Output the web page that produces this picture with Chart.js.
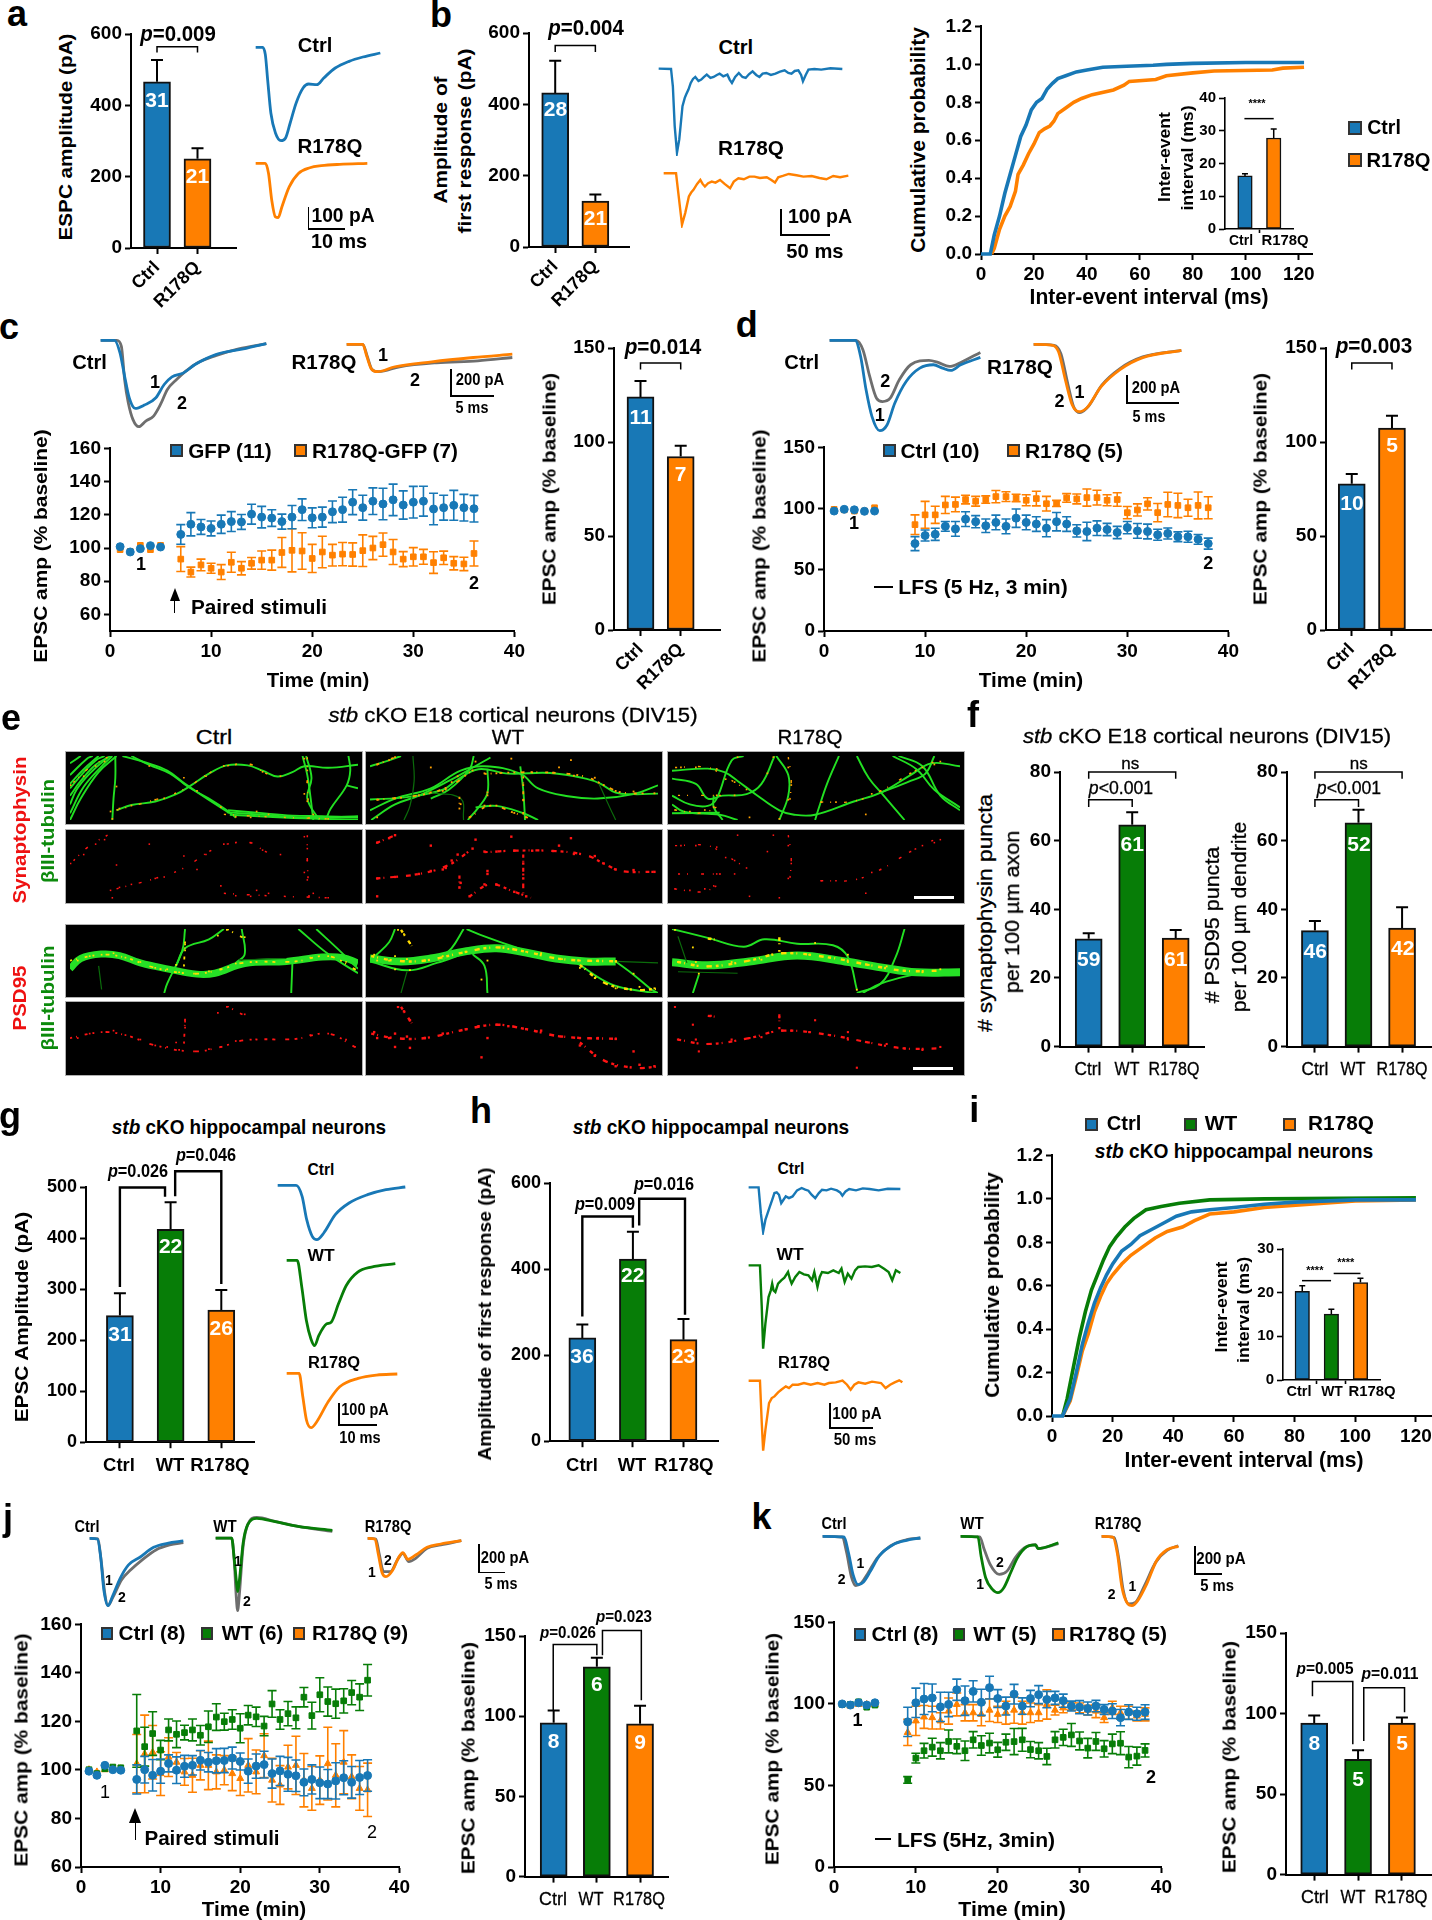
<!DOCTYPE html>
<html>
<head>
<meta charset="utf-8">
<title>Figure</title>
<script src="https://cdn.jsdelivr.net/npm/chart.js@4/dist/chart.umd.min.js"></script>
<style>
html, body { margin: 0; background: #fff; }
#fig { position: relative; width: 1432px; height: 1920px; overflow: hidden; background: #fff; }
#fig canvas { position: absolute; }
.t { position: absolute; white-space: nowrap; color: #000; font-family: "Liberation Sans", Arial, sans-serif; line-height: 1; }
.box { position: absolute; background: #000; }
.sw { position: absolute; box-sizing: border-box; border: 2px solid #333; }
</style>
</head>
<body>
<div id="fig"></div>
<script>
var BLUE = "#1878b6", ORANGE = "#ff8000", GREEN = "#077d07", GRAY = "#6e6e6e";

// ---- bar values: means, upper error ends, n labels and where the n label sits
var aVals = [466, 250], aErr = [527, 280], aN = ["31", "21"], aNy = [418, 204];
var bVals = [432, 129], bErr = [522, 147], bN = ["28", "21"], bNy = [390, 84];
var bInsetVals = [16.2, 27.8], bInsetErr = [16.9, 30.5];
var cBarVals = [124, 92.3], cBarErr = [132.4, 98], cBarN = ["11", "7"], cBarNy = [113.6, 83.4];
var dBarVals = [77.8, 107.4], dBarErr = [83, 114], dBarN = ["10", "5"], dBarNy = [68, 99];
var f1Vals = [31.4, 64.6, 31.6], f1Err = [33, 68.3, 34], f1N = ["59", "61", "61"], f1Ny = [25.7, 59.3, 25.6];
var f2Vals = [33.8, 65.2, 34.5], f2Err = [36.6, 69, 40.6], f2N = ["46", "52", "42"], f2Ny = [28.2, 59.3, 28.8];
var gVals = [248, 417, 259], gErr = [292, 470, 298], gN = ["31", "22", "26"], gNy = [214, 386, 225];
var hVals = [240, 423, 236], hErr = [271, 487, 284], hN = ["36", "22", "23"], hNy = [199, 388, 200];
var iInsetVals = [20.3, 15.1, 22.3], iInsetErr = [21.6, 16.2, 23.3];
var jBarVals = [95.9, 130.8, 95.3], jBarErr = [103.5, 136.5, 106.5], jBarN = ["8", "6", "9"], jBarNy = [84.7, 120.8, 84.5];
var kBarVals = [94.1, 71.5, 94.1], kBarErr = [98.8, 77.2, 97.6], kBarN = ["8", "5", "5"], kBarNy = [82.5, 60, 82.5];
var twoCats = ["Ctrl", "R178Q"], threeCats = ["Ctrl", "WT", "R178Q"];

// ---- cumulative curves [interval ms, probability]
var cumTicks = [0, 20, 40, 60, 80, 100, 120];
var bCumCtrl = [[0,0],[3.5,0],[5,.1],[7,.2],[9,.32],[11,.42],[13,.52],[15,.62],[17,.68],[19,.76],[21,.8],[23,.82],[25,.87],[27,.9],[29,.925],[32,.94],[36,.96],[40,.97],[46,.985],[55,.99],[65,.995],[70,1],[80,1.005],[100,1.01],[122,1.01]];
var bCumMut = [[4,0],[5,.03],[7,.13],[9,.2],[11,.25],[13,.33],[14,.42],[16,.47],[18,.53],[20,.58],[22,.64],[24,.66],[26,.675],[27.5,.7],[29,.74],[32,.77],[35,.8],[38,.82],[42,.84],[50,.865],[54,.89],[56,.91],[66,.92],[70,.94],[80,.955],[88,.965],[110,.97],[114,.98],[122,.985]];
var iCumCtrl = [[0,0],[3.5,0],[6,.08],[8,.2],[10,.33],[12,.43],[14,.52],[16,.59],[18,.65],[20,.7],[23,.76],[26,.79],[29,.83],[33,.86],[37,.89],[41,.92],[46,.94],[52,.95],[60,.96],[70,.975],[80,.985],[100,.995],[120,.995]];
var iCumWT = [[3.5,0],[5,.08],[7,.22],[9,.36],[11,.48],[13,.58],[15,.65],[17,.72],[19,.78],[21,.82],[24,.87],[27,.91],[31,.95],[36,.965],[42,.98],[52,.995],[70,1],[120,1.005]];
var iCumMut = [[3.5,0],[6,.07],[8,.18],[10,.3],[12,.38],[14,.48],[16,.55],[18,.61],[20,.65],[23,.7],[26,.74],[30,.78],[34,.82],[38,.85],[43,.87],[47,.9],[52,.93],[60,.94],[70,.96],[85,.975],[100,.99],[120,.995]];

// ---- time courses: minutes, means, half error bars
var cTimes = [1,2,3,4,5,7,8,9,10,11,12,13,14,15,16,17,18,19,20,21,22,23,24,25,26,27,28,29,30,31,32,33,34,35,36];
var cBlue = [100.8,97.6,99.6,101.4,100.6,108.2,114.3,112.7,111.8,114.3,115.9,115.7,120.4,118.6,118,115.9,118.6,123.1,118.2,118.6,121.8,123.1,127.6,124.3,128.2,126.5,129,125.9,127.6,128.2,123.5,124.3,125.7,124.3,123.7];
var cBlueErr = [0,0,0,0,0,5.9,7,4.5,4.5,5.5,6,4.5,6,6.5,5,4.5,7,6.5,6,6,6.5,7.5,7.5,7.5,8,9.5,9.5,8.5,9.5,9,9.5,7.5,9,8,8];
var cOrange = [99,98,101.6,99,101.6,93.3,85.5,89.8,87.8,85.5,91.4,87.8,90.8,92.7,92.7,97.3,98.6,98.2,93.7,97.6,95.7,96.3,96.1,98.4,100,102,97.6,93.3,94.7,94.7,91.2,94.1,90.8,90.4,96.7];
var cOrangeErr = [0,0,0,0,0,7.5,3,3.5,3,4.5,6,4,3.5,5.5,6,9,13,11,8.5,9.5,6.5,7,7,9.5,7,7,7.5,4.5,5.5,4.5,6.5,4,4,4,7.5];

var dTimes = [1,2,3,4,5,9,10,11,12,13,14,15,16,17,18,19,20,21,22,23,24,25,26,27,28,29,30,31,32,33,34,35,36,37,38];
var dBlue = [98,99.4,99,97.8,98,71.4,78,79,85.5,83.4,91.4,89.3,86,88.7,85.5,92.2,88.7,87.4,84,89.3,87.4,81.8,81.3,84,82.9,80.5,84.5,81.8,81.3,78.6,79.7,77,77,74.9,71.4];
var dBlueErr = [0,0,0,0,0,5.7,4.5,5,4,6,6,5,5.5,6,6,7.5,6,6,7,7.5,6,5,7.5,6,5,5,5,6,6,4.5,4.5,4,4.5,4,4.5];
var dOrange = [99.4,99,98,98,100.7,86.9,94.9,94.9,103,103.4,107.4,106,107.4,109.8,109.8,108.7,106.8,108.2,104,104.2,108.7,107.9,109,109,106.8,107.4,96.7,98.9,103.9,96.7,103.4,102.6,100.7,102.6,100.7];
var dOrangeErr = [0,0,0,0,0,8,11,7,7,6,3.5,4,3,5,4,3,4.5,6,6,2.5,3.5,4,7,6,4.5,5.5,5,5,5,7.5,10,10,7,11,9];

var jTimes = [1,2,3,4,5,7,8,9,10,11,12,13,14,15,16,17,18,19,20,21,22,23,24,25,26,27,28,29,30,31,32,33,34,35,36];
var jBlue = [99.5,97.8,101.9,100.1,99.9,96.1,100.1,97.8,99.5,102.7,99.9,101.5,101.9,104,103.2,103.8,103.9,104.9,103.5,99.5,101.6,102.2,98.5,99.6,98.2,97.6,94.9,96.1,94.7,94.2,95.5,96.8,94.9,96.9,97.7];
var jBlueErr = [0,0,0,0,0,6,5.5,6.5,5,3.5,5.5,4.5,4,4,4,5,5,4.5,3.5,5,5,5.5,6,6,7,6.5,5.5,6,6.5,6,7.5,7,6.5,7,6.5];
var jGreen = [100.1,98.5,100.5,101.2,100.9,116.1,109.6,115,108.2,116.5,114.7,115.4,116.5,114.3,117.8,121.8,119.9,120.8,117.2,122.6,121.9,118.1,127.2,120.8,123.2,121.5,130,122.4,131,128.2,127.3,128.5,131.9,130,137];
var jGreenErr = [0,0,0,0,0,15,8,9,4,4.5,5.5,3,4.5,4,6.5,5.5,3.5,4,6,4,4,4,5.5,4,5,4.5,4,5.5,7,6,6,5,5,5.5,6.5];
var jOrange = [100.1,99.2,100.1,100.5,100.5,102.6,106.6,107.3,98.5,105.3,103.2,99.2,97.8,101.9,101.9,99.2,99.9,98.5,96.5,101.9,99.2,105.9,95.8,93.8,101.2,101.9,95.8,92.4,95.8,102.6,97.8,103.2,97.2,92.4,91.8];
var jOrangeErr = [0,0,0,0,0,12,16,11,9,8,4,5.5,7,6,10,7,6,7,7,11,9,9,9,8,9,12,11,9,10,15,13,13,9,9,11];

var kTimes = [1,2,3,4,5,9,10,11,12,13,14,15,16,17,18,19,20,21,22,23,24,25,26,27,28,29,30,31,32,33,34,35,36,37,38];
var kBlue = [100,99.3,100.7,99.3,100.7,89,100.7,103,103.7,98.2,99.7,108.7,102,107.7,101,110,103.3,98.7,106,98.7,103.3,105.7,102.7,103.7,102,98.7,98,97.2,98.7,96.6,95.6,91.6,95,94,95];
var kBlueErr = [0,0,0,0,0,9,9,9.5,8.5,9,7.5,6.5,9,6.5,8,7,5.5,5.5,6,5,5,5.5,5,4,4,3,4,4,3.5,3,4.5,5,4.5,4,4.5];
var kGreen = [99.7,99.7,101.3,98,99.3,53.4,66.8,71.3,73.5,71.3,77,74,71.3,78,74.5,76,71.9,76.5,76.9,78,72,71.3,67.8,78,79.5,81,77.3,72.9,77,72.5,75.5,75.9,67.4,68,71.5];
var kGreenErr = [0,0,0,0,0,2,3,4.5,5.5,5,7,4.5,6,5,6,6,4.5,5,8,7,5,5,5,5,5,7,5.5,6,5.5,5,6,7,6.5,5.5,4];
var kOrange = [100,98.7,99.7,99.7,99.7,82.5,89.6,92,91.6,89.6,95.6,99.7,94.6,94.6,93.6,96.2,93.6,94.6,96.2,94.6,94.6,94.6,99.7,96.2,97.6,98.7,97.6,96.2,95.6,91.6,97.6,94.6,94.6,92.6,93.6];
var kOrangeErr = [0,0,0,0,0,8,9,7,7,5,8,7,5,5,7,7,5,7,8,7,6,5,9,3,3,2.5,3,3,4,3,4,4,4,3,4];

// ---- example traces in arbitrary units (time, depth)
var trA1 = [[557,143],[572,143],[578,165],[583,240],[590,340],[600,400],[612,423],[622,415],[632,370],[645,310],[660,265],[672,253],[690,255],[705,235],[730,205],[760,185],[790,172],[828,160]];
var trA2 = [[557,490],[578,490],[585,520],[592,600],[600,650],[606,652],[614,620],[630,560],[650,520],[675,503],[700,497],[740,493],[800,490]];
var trB1 = [[1435,207],[1462,208],[1466,260],[1470,380],[1475,460],[1480,420],[1487,320],[1492,295],[1495,285],[1500,270],[1505,250],[1510,238],[1515,232],[1522,244],[1528,240],[1534,232],[1540,225],[1548,235],[1555,232],[1562,226],[1568,222],[1576,230],[1585,225],[1590,240],[1595,250],[1602,232],[1610,220],[1618,232],[1625,235],[1632,224],[1640,215],[1648,226],[1655,232],[1662,222],[1670,220],[1680,226],[1690,222],[1700,216],[1710,212],[1718,220],[1725,222],[1732,214],[1740,212],[1746,226],[1750,245],[1756,226],[1762,210],[1775,208],[1790,210],[1810,206],[1836,208]];
var trB2 = [[1445,520],[1472,520],[1477,580],[1485,675],[1492,640],[1500,590],[1505,578],[1510,570],[1518,552],[1525,540],[1530,552],[1535,560],[1542,550],[1550,545],[1558,548],[1568,540],[1578,552],[1590,565],[1598,545],[1608,535],[1620,538],[1632,530],[1643,530],[1655,534],[1670,532],[1680,540],[1688,548],[1695,532],[1705,528],[1718,522],[1735,526],[1750,530],[1768,528],[1785,534],[1800,538],[1815,528],[1830,532],[1848,527]];
var trC1g = [[220,62],[255,62],[265,80],[272,180],[280,250],[290,300],[303,322],[318,305],[335,290],[350,255],[365,210],[385,180],[405,155],[430,130],[470,108],[520,88],[580,72]];
var trC1 = [[220,62],[250,62],[262,100],[272,170],[282,235],[295,267],[315,257],[340,235],[358,195],[375,172],[400,160],[425,135],[470,105],[530,88],[580,72]];
var trC2g = [[755,72],[790,72],[800,110],[810,148],[825,155],[870,140],[950,128],[1040,122],[1115,112]];
var trC2 = [[755,72],[790,72],[798,105],[808,145],[822,155],[860,140],[940,125],[1030,112],[1115,102]];
var trD1g = [[242,62],[300,62],[315,90],[330,170],[345,235],[358,245],[375,235],[395,180],[420,135],[460,122],[480,128],[505,140],[530,128],[573,98]];
var trD1 = [[242,62],[298,62],[310,110],[322,210],[335,290],[352,332],[368,315],[385,250],[410,185],[440,145],[470,135],[490,145],[508,152],[530,135],[573,113]];
var trD2g = [[690,72],[735,75],[750,100],[765,190],[778,260],[792,278],[810,260],[840,195],[880,145],[930,110],[1015,90]];
var trD2 = [[690,72],[732,75],[745,95],[760,180],[775,255],[790,275],[808,262],[838,200],[880,148],[930,112],[1015,90]];
var trG1 = [[605,287],[645,287],[658,320],[668,390],[680,440],[690,450],[705,430],[730,375],[760,340],[800,315],[840,300],[882,292]];
var trG2 = [[625,510],[648,510],[658,590],[668,690],[678,745],[686,765],[695,735],[712,700],[722,695],[738,640],[755,585],[780,545],[810,530],[862,520]];
var trG3 = [[625,850],[652,850],[660,920],[668,990],[678,1012],[690,995],[715,935],[740,890],[780,865],[820,855],[865,852]];
var trH1 = [[63,293],[85,293],[90,370],[95,425],[100,390],[110,350],[115,330],[120,310],[125,308],[130,315],[135,340],[140,330],[145,320],[152,325],[160,320],[170,302],[180,295],[188,300],[195,303],[202,315],[210,325],[218,310],[225,300],[235,302],[245,297],[258,302],[265,308],[270,318],[277,305],[285,298],[300,302],[315,296],[330,298],[350,302],[370,297],[398,298]];
var trH2 = [[63,525],[88,525],[92,650],[95,775],[100,700],[107,620],[112,600],[115,580],[118,600],[122,605],[128,580],[135,570],[142,562],[150,545],[154,565],[158,580],[166,560],[175,545],[185,552],[195,555],[203,570],[208,545],[215,590],[220,560],[225,545],[238,548],[250,540],[262,548],[268,535],[275,575],[282,550],[290,565],[298,540],[305,530],[320,528],[335,530],[350,525],[362,535],[372,545],[380,570],[388,540],[398,548]];
var trH3 = [[63,873],[88,873],[92,1000],[95,1082],[100,1020],[108,940],[114,925],[120,920],[128,908],[135,900],[145,890],[152,895],[160,885],[172,885],[185,880],[200,885],[215,880],[230,885],[240,880],[255,878],[270,873],[280,885],[288,900],[296,885],[305,878],[320,882],[335,876],[345,878],[355,880],[365,895],[375,885],[385,878],[395,872],[402,878]];
var trJ1g = [[195,205],[213,207],[220,270],[228,370],[235,408],[245,385],[265,330],[285,300],[310,270],[340,240],[370,225],[400,218]];
var trJ1 = [[195,205],[212,207],[219,260],[226,360],[235,408],[245,380],[262,325],[280,285],[305,262],[335,232],[365,220],[400,213]];
var trJ2g = [[470,205],[505,205],[510,260],[515,380],[518,422],[522,370],[530,230],[540,165],[560,143],[600,155],[650,170],[725,185]];
var trJ2 = [[470,205],[505,205],[510,260],[515,330],[518,365],[522,330],[530,220],[540,165],[560,146],[600,156],[650,170],[725,182]];
var trJ3g = [[800,205],[818,207],[825,250],[835,305],[850,305],[865,270],[877,250],[890,275],[905,265],[930,235],[960,225],[1005,212]];
var trJ3 = [[800,205],[816,207],[823,250],[832,310],[840,320],[855,300],[868,262],[877,248],[888,268],[905,255],[930,232],[960,222],[1005,212]];
var trK1g = [[225,200],[268,202],[278,250],[288,320],[298,348],[310,340],[325,310],[345,265],[375,228],[410,210],[440,205]];
var trK1 = [[225,200],[272,202],[282,250],[292,315],[303,345],[315,337],[330,305],[350,258],[380,225],[410,212],[440,205]];
var trK2g = [[530,200],[572,202],[582,240],[595,285],[615,315],[632,305],[650,265],[670,235],[695,225],[700,237],[745,222]];
var trK2 = [[530,200],[568,202],[575,260],[585,325],[600,360],[612,370],[625,355],[640,310],[655,265],[675,232],[695,226],[700,237],[745,220]];
var trK3g = [[840,198],[868,202],[878,265],[888,360],[900,400],[915,395],[935,345],[960,275],[985,240],[1010,226]];
var trK3 = [[840,198],[865,200],[875,250],[885,350],[897,398],[907,405],[920,390],[940,340],[962,270],[985,238],[1010,228]];

// ---- micrographs: neurite paths and puncta, in image units
var e1Fibers = [
  [[107,290],[125,240],[150,185],[175,155]], [[107,250],[130,200],[155,155]], [[107,220],[135,165],[145,155]], [[107,320],[118,270],[140,215],[170,160]],
  [[107,180],[125,155]], [[107,350],[130,260],[160,190],[178,155]], [[107,373],[125,300],[155,210],[185,155]], [[107,265],[128,215],[150,170],[165,155]],
  [[183,155],[183,230],[180,300],[178,373]], [[210,155],[240,185],[275,215],[305,260],[340,300],[370,340],[385,365]], [[195,155],[235,178],[270,205],[300,250],[340,305],[375,350]],
  [[185,340],[210,322],[250,310],[285,285],[310,255],[340,215],[370,187],[405,187],[430,205],[455,225],[480,210],[500,190],[540,195],[590,185]],
  [[372,340],[420,348],[480,358],[530,360],[590,365]], [[375,355],[440,362],[510,368],[590,372]], [[370,347],[430,355],[500,365],[590,360]],
  [[497,155],[505,220],[510,290],[515,373]], [[503,155],[512,230],[505,300],[525,373]], [[574,155],[577,205],[571,255],[544,335],[536,373]], [[571,255],[590,265]]
];
var e2Fibers = [
  [[598,303],[660,295],[720,270],[745,235],[780,200],[830,215],[900,213],[960,232],[985,250],[1010,280],[1040,285],[1081,283]],
  [[598,340],[640,300],[700,265],[750,205],[790,190],[850,215],[880,265],[930,292],[980,300],[1040,285],[1081,255]],
  [[600,373],[640,320],[680,290],[730,240],[770,195],[800,160]],
  [[795,200],[795,280],[780,330],[762,373]], [[850,190],[855,270],[858,373]], [[772,155],[765,200],[730,270],[700,300]],
  [[598,190],[630,170],[650,155]], [[775,330],[810,325],[855,350],[880,373]]
];
var e2Faint = [[[980,240],[1000,330],[1010,373]], [[700,280],[750,300],[755,373]], [[670,155],[672,240],[665,325],[655,373]]];
var e3Fibers = [
  [[1090,232],[1130,250],[1150,300],[1175,290],[1215,285],[1240,250],[1262,155]],
  [[1090,205],[1150,198],[1178,210],[1200,240],[1230,285],[1270,340],[1295,355],[1330,355],[1395,310],[1440,280],[1490,220],[1525,180],[1573,190]],
  [[1090,290],[1120,320],[1150,325],[1165,300],[1190,170],[1210,155]], [[1090,320],[1110,345],[1170,355],[1200,373]],
  [[1265,155],[1285,220],[1285,290],[1270,373]], [[1370,155],[1350,250],[1335,340],[1330,373]], [[1400,155],[1420,230],[1445,290],[1480,373]],
  [[1160,290],[1160,330],[1175,373]], [[1460,155],[1500,200],[1530,270],[1573,330]], [[1470,155],[1510,190],[1540,290],[1573,340]],
  [[1530,155],[1515,215],[1490,240],[1440,280]], [[1090,350],[1170,348]]
];
var e4Thick = [[[107,810],[125,775],[160,760],[190,765],[225,790],[270,810],[320,828],[350,825],[400,792],[470,785],[530,770],[565,772],[590,790]]];
var e4Fibers = [
  [[300,675],[295,750],[270,860],[265,892]], [[365,675],[340,710],[300,740],[285,800]], [[395,675],[400,760],[385,790]],
  [[490,675],[540,760],[590,825]], [[520,675],[560,750],[590,810]], [[480,790],[478,892]]
];
var e4Faint = [[[155,800],[160,880]], [[390,780],[470,775]]];
var e5Thick = [[[598,775],[650,785],[700,775],[760,750],[810,740],[860,755],[910,775],[960,785],[1010,785]]];
var e5Fibers = [
  [[1010,785],[1040,830],[1070,880],[1081,892]], [[945,790],[1000,860],[1050,885],[1081,892]], [[598,785],[660,815],[710,790],[760,755]],
  [[755,675],[735,740],[720,765]], [[640,675],[630,720],[605,770]], [[760,675],[790,700],[860,750]], [[770,760],[790,800],[795,892]]
];
var e5Faint = [[[660,820],[650,892]], [[1010,785],[1081,790]]];
var e6Thick = [[[1090,788],[1150,798],[1220,785],[1300,765],[1380,785],[1440,805],[1500,822],[1573,822]]];
var e6Fibers = [
  [[1090,675],[1150,705],[1210,735],[1245,710],[1300,725],[1360,730],[1385,770],[1400,880]],
  [[1480,675],[1465,770],[1440,860],[1400,892]], [[1510,822],[1440,860],[1410,892]], [[1135,830],[1125,892]]
];
var e6Faint = [[[1100,820],[1200,825]], [[1100,700],[1115,790]]];
var e1Puncta = [[165,410],[150,425],[130,460],[108,490],[185,495],[240,425],[298,465],[320,510],[265,535],[210,560],[175,580],[178,605],[365,425],[385,420],[410,420],[430,445],[460,460],[335,460],[500,400],[505,440],[505,480],[505,545],[500,520],[360,565],[420,580],[440,590],[385,598],[410,600],[515,590],[540,605],[250,540],[190,570]];
var e2Puncta = [[610,420],[630,405],[640,395],[700,430],[770,440],[745,460],[735,480],[725,505],[700,515],[680,525],[640,535],[610,540],[795,515],[750,555],[748,570],[790,450],[810,450],[840,447],[870,447],[905,448],[915,430],[940,458],[975,465],[990,490],[1010,510],[1040,512],[1075,518],[855,490],[855,540],[790,560],[810,560],[840,585],[860,600],[765,600],[610,600],[775,410],[835,400],[935,405],[795,525],[720,510]];
var e3Puncta = [[1105,430],[1130,430],[1165,435],[1180,470],[1195,480],[1215,505],[1165,525],[1195,525],[1120,580],[1145,575],[1095,575],[1285,430],[1290,490],[1285,540],[1250,450],[1340,548],[1365,548],[1415,590],[1425,520],[1440,510],[1510,430],[1490,450],[1540,410],[1530,420],[1200,395],[1260,395],[1220,600],[1270,605],[1160,565]];
var e4Puncta = [[120,1015],[140,1000],[160,995],[180,990],[200,1005],[225,1020],[250,1040],[270,1045],[290,1055],[315,1060],[340,1052],[360,1045],[385,1025],[420,1020],[450,1020],[485,1018],[510,1005],[540,1000],[570,1020],[585,1045],[300,960],[300,980],[355,930],[370,910],[400,935],[285,1030]];
var e5Puncta = [[605,995],[610,1015],[630,1015],[640,1000],[660,1010],[665,1048],[640,1045],[690,1015],[720,1000],[760,985],[780,975],[810,970],[860,985],[885,990],[920,1010],[950,1015],[980,1015],[1010,1018],[655,925],[665,955],[645,910],[795,1015],[785,1080],[950,1040],[975,1075],[1010,1110],[1050,1105],[1075,1110],[1040,1060],[830,975]];
var e6Puncta = [[1095,910],[1125,970],[1155,940],[1100,1020],[1130,1020],[1150,1035],[1190,1020],[1220,1015],[1240,1012],[1275,990],[1290,990],[1320,995],[1355,1005],[1385,1020],[1420,1030],[1450,1035],[1480,1050],[1510,1055],[1540,1045],[1270,945],[1385,995],[1400,1115],[1330,955],[1135,1060]];
// strings of puncta that follow a neurite
var e1Beads = [[[185,575],[250,540],[298,505],[340,450],[370,425],[410,420],[435,450],[460,462]], [[505,395],[505,480],[508,605]], [[365,590],[440,598],[540,605]], [[170,395],[140,430],[108,490]]];
var e2Beads = [[[610,540],[680,525],[730,495],[770,440]], [[790,452],[840,447],[905,448],[960,462],[990,490],[1020,515],[1075,518]], [[610,420],[640,395]], [[765,600],[800,560],[840,585],[868,605]], [[855,460],[855,590]], [[748,530],[748,575]]];
var e3Beads = [[[1095,430],[1150,430],[1178,460],[1215,505]], [[1095,575],[1140,585],[1170,560]], [[1100,525],[1195,525]], [[1285,395],[1290,470],[1285,590]], [[1340,548],[1395,545],[1440,510],[1490,450],[1530,410]]];
var e4Beads = [[[107,1015],[160,995],[200,1005],[250,1040],[315,1060],[360,1045],[400,1022],[485,1018],[540,1000],[585,1045]], [[300,950],[298,1040]], [[370,907],[400,940]]];
var e5Beads = [[[600,1000],[640,1015],[690,1015],[760,985],[810,970],[860,985],[920,1010],[1015,1018]], [[650,910],[668,965]], [[950,1030],[990,1090],[1040,1115],[1078,1112]]];
var e6Beads = [[[1100,1020],[1150,1035],[1220,1015],[1275,990],[1355,1005],[1420,1030],[1480,1050],[1540,1050]], [[1270,935],[1270,985]], [[1150,940],[1170,945]]];
// irregular gaps so the strings do not read as a dashed line
var SPARSE = [2, 7, 1, 13, 3, 9, 1, 5, 2, 17], DENSE = [3, 3, 1, 6, 4, 2, 2, 8, 5, 4], MEDIUM = [2, 4, 1, 8, 3, 5, 2, 11, 4, 6];

Chart.defaults.font.family = '"Liberation Sans", Arial, sans-serif';
Chart.defaults.color = "#000";
var fig = document.getElementById("fig");

// the right hand crops were read at a slightly different width, xMap brings them back
var xMap = function (x) { return x; };
function rightSide(on) {
  xMap = on ? function (x) { return 720 + (x - 720) * 0.989; } : function (x) { return x; };
}

function addCanvas(l, t, w, h, bg) {
  var c = document.createElement("canvas");
  c.width = Math.round(w);
  c.height = Math.round(h);
  c.style.left = l + "px";
  c.style.top = t + "px";
  c.style.width = Math.round(w) + "px";
  c.style.height = Math.round(h) + "px";
  if (bg) c.style.background = bg;
  fig.appendChild(c);
  return c;
}

// text centred on (cx, cy), squeezed or stretched along its run to length w
function label(html, cx, cy, w, size, o) {
  o = o || {};
  var d = document.createElement("div");
  d.className = "t";
  d.innerHTML = html;
  // level labels in the figure are narrower and taller than plain Arial
  d.style.fontSize = (w && !o.rot ? size * 1.12 : size) + "px";
  d.style.fontWeight = o.weight || "bold";
  if (o.color) d.style.color = o.color;
  if (o.stroke) d.style.webkitTextStroke = o.stroke + "px currentColor";
  d.style.left = xMap(cx) + "px";
  d.style.top = cy + "px";
  fig.appendChild(d);
  var k = w ? w / d.offsetWidth : 1;
  d.style.transform = "translate(-50%,-50%) rotate(" + (o.rot || 0) + "deg) scaleX(" + k + ")";
  return d;
}

function rect(l, t, w, h, color) {
  var d = document.createElement("div");
  d.className = "box";
  d.style.cssText = "left:" + xMap(l) + "px;top:" + t + "px;width:" + w + "px;height:" + h + "px;" + (color ? "background:" + color : "");
  fig.appendChild(d);
}

function swatch(l, t, w, h, color) {
  var d = document.createElement("div");
  d.className = "sw";
  d.style.cssText = "left:" + xMap(l) + "px;top:" + t + "px;width:" + w + "px;height:" + h + "px;background:" + color;
  fig.appendChild(d);
}

function scaleBar(x, y0, y1, x2) {
  rect(x - 1, y0, 1.6, y1 - y0);
  rect(x - 1, y1 - 0.6, x2 - x + 1, 1.6);
}

function letter(s, cx, cy) { label(s, cx, cy, 0, 36, {}); }

function arrow(x, top, headH, headW, bottom) {
  rect(x - 0.8, top + headH - 1, 1.6, bottom - top - headH + 1);
  var d = document.createElement("div");
  d.style.cssText = "position:absolute;width:0;height:0;left:" + (x - headW / 2) + "px;top:" + top + "px;border-left:" + headW / 2 + "px solid transparent;border-right:" + headW / 2 + "px solid transparent;border-bottom:" + headH + "px solid #000";
  fig.appendChild(d);
}

var errorPlugin = {
  id: "errs",
  beforeDatasetDraw: function (chart, args) {
    var ds = chart.data.datasets[args.index];
    if (!ds.errTop && !ds.errs) return;
    var ctx = chart.ctx, xs = chart.scales.x, ys = chart.scales.y;
    ctx.save();
    ctx.strokeStyle = ds.errColor || "#000";
    ctx.lineWidth = ds.errWidth || 2;
    for (var i = 0; i < ds.data.length; i++) {
      var p = ds.data[i];
      var hi = ds.errTop ? ds.errTop[i] : p.y + ds.errs[i];
      var lo = ds.errTop ? p.y : p.y - ds.errs[i];
      if (hi === lo) continue;
      var x = xs.getPixelForValue(p.x), y1 = ys.getPixelForValue(hi), y0 = ys.getPixelForValue(lo);
      ctx.beginPath();
      ctx.moveTo(x, y0);
      ctx.lineTo(x, y1);
      ctx.moveTo(x - ds.capW, y1);
      ctx.lineTo(x + ds.capW, y1);
      if (ds.errs) {
        ctx.moveTo(x - ds.capW, y0);
        ctx.lineTo(x + ds.capW, y0);
      }
      ctx.stroke();
    }
    ctx.restore();
  }
};

// brackets are [x0, x1, top, left leg end, right leg end] on the chart's scales
function bracketPlugin(list, width) {
  return {
    id: "brackets",
    afterDatasetsDraw: function (chart) {
      var ctx = chart.ctx, xs = chart.scales.x, ys = chart.scales.y;
      ctx.save();
      ctx.strokeStyle = "#000";
      ctx.lineWidth = width || 1.5;
      (list || []).forEach(function (b) {
        ctx.beginPath();
        ctx.moveTo(xs.getPixelForValue(b[0]), ys.getPixelForValue(b[3]));
        ctx.lineTo(xs.getPixelForValue(b[0]), ys.getPixelForValue(b[2]));
        ctx.lineTo(xs.getPixelForValue(b[1]), ys.getPixelForValue(b[2]));
        ctx.lineTo(xs.getPixelForValue(b[1]), ys.getPixelForValue(b[4]));
        ctx.stroke();
      });
      ctx.restore();
    }
  };
}

function baseOptions(m) {
  return {
    responsive: false,
    animation: false,
    events: [],
    layout: { padding: { top: m.t, right: m.r, left: 0, bottom: 0 } },
    plugins: { legend: { display: false }, tooltip: { enabled: false } }
  };
}

function axisStyle(lw, tick, size, weight) {
  return {
    grid: { drawOnChartArea: false, drawTicks: true, tickLength: tick, tickWidth: lw, tickColor: "#000" },
    border: { display: true, color: "#000", width: lw },
    ticks: { color: "#000", padding: 3, autoSkip: false, minRotation: 0, maxRotation: 0, font: { size: size, weight: weight } }
  };
}

function yAxis(min, max, step, size, m, list, lw) {
  var a = axisStyle(lw || 2, 6, size, "bold");
  a.min = min;
  a.max = max;
  a.bounds = "data";
  a.ticks.stepSize = step;
  a.afterFit = function (s) { s.width = m.l; };
  if (list) a.afterBuildTicks = function (s) { s.ticks = list.map(function (v) { return { value: v }; }); };
  return a;
}

// c: x0,x1 axis span; top,bottom pixels of ymax and 0; cat0,catN first and last bar centres
function barChart(c) {
  var m = { l: c.ml || 60, r: 6, t: c.mt || 46, b: c.mb || (c.rotate ? 80 : 52) };
  var x0 = xMap(c.x0), x1 = xMap(c.x1), cat0 = xMap(c.cat0), catN = xMap(c.catN);
  var cv = addCanvas(x0 - m.l, c.top - m.t, x1 - x0 + m.l + m.r, c.bottom - c.top + m.t + m.b);
  var n = c.vals.length, sp = (catN - cat0) / (n - 1), rawSp = (c.catN - c.cat0) / (n - 1);
  var xs = [], pts = [];
  for (var i = 0; i < n; i++) {
    xs.push(i);
    pts.push({ x: i, y: c.vals[i] });
  }
  var xAxis = axisStyle(c.lw || 2, c.tick || 6, c.catSize || 18, c.catWeight || "bold");
  xAxis.type = "linear";
  xAxis.offset = false;
  xAxis.grid.offset = false;
  xAxis.bounds = "data";
  xAxis.min = (x0 - cat0) / sp;
  xAxis.max = (x1 - cat0) / sp;
  xAxis.afterFit = function (s) { s.height = m.b; };
  var tickVals = c.tickVals || xs;
  xAxis.afterBuildTicks = function (s) { s.ticks = tickVals.map(function (v) { return { value: v }; }); };
  xAxis.ticks.callback = function (v) { return c.hideCats ? "" : c.cats[v]; };
  if (c.rotate) {
    xAxis.ticks.minRotation = c.rotate;
    xAxis.ticks.maxRotation = c.rotate;
  }
  var opts = baseOptions(m);
  opts.scales = { x: xAxis, y: yAxis(0, c.ymax, c.step, c.size || 19, m, null, c.lw) };
  var chart = new Chart(cv, {
    type: "bar",
    data: {
      datasets: [{
        data: pts,
        backgroundColor: c.colors,
        borderColor: "#111",
        borderWidth: c.barBorder || 2,
        borderSkipped: false,
        barThickness: c.barW,
        errTop: c.errs,
        capW: c.capW || 6,
        errWidth: c.errWidth || 2
      }]
    },
    options: opts,
    plugins: [errorPlugin, bracketPlugin(c.brackets, c.brW)]
  });
  if (c.n) {
    c.n.forEach(function (t, i) {
      label(t, c.cat0 + i * rawSp, c.top - m.t + chart.scales.y.getPixelForValue(c.ny[i]), 0, c.nSize || 21, { color: "#fff" });
    });
  }
  return chart;
}

function pointsOf(times, vals) {
  return times.map(function (t, i) { return { x: t, y: vals[i] }; });
}

function timeChart(c) {
  var m = { l: 60, r: 8, t: 10, b: 40 };
  var x0 = xMap(c.x0), x1 = xMap(c.x1);
  var cv = addCanvas(x0 - m.l, c.top - m.t, x1 - x0 + m.l + m.r, c.bottom - c.top + m.t + m.b);
  var xAxis = axisStyle(2, 6, c.size || 19, "bold");
  xAxis.min = 0;
  xAxis.max = 40;
  xAxis.ticks.stepSize = 10;
  xAxis.afterFit = function (s) { s.height = m.b; };
  var opts = baseOptions(m);
  opts.scales = { x: xAxis, y: yAxis(c.ymin, c.ymax, c.step, c.size || 19, m, c.yList) };
  new Chart(cv, {
    type: "scatter",
    data: {
      datasets: c.series.map(function (s) {
        return {
          data: pointsOf(s.times, s.vals),
          errs: s.errs,
          capW: 4.5,
          errWidth: 1.6,
          errColor: s.color,
          backgroundColor: s.color,
          borderColor: s.color,
          pointStyle: s.style,
          pointRadius: s.radius || 4,
          showLine: false,
          clip: false
        };
      })
    },
    options: opts,
    plugins: [errorPlugin]
  });
}

function cumChart(c) {
  var m = { l: 50, r: 10, t: 12, b: 40 };
  var x0 = xMap(c.x0), x1 = xMap(c.x1);
  var cv = addCanvas(x0 - m.l, c.top - m.t, x1 - x0 + m.l + m.r, c.bottom - c.top + m.t + m.b);
  var xAxis = axisStyle(2, 6, 19, "bold");
  xAxis.min = 0;
  xAxis.max = c.xmax;
  xAxis.bounds = "data";
  xAxis.afterBuildTicks = function (s) { s.ticks = cumTicks.map(function (v) { return { value: v }; }); };
  xAxis.afterFit = function (s) { s.height = m.b; };
  var opts = baseOptions(m);
  opts.scales = { x: xAxis, y: yAxis(0, 1.2, 0.2, 19, m) };
  opts.scales.y.ticks.callback = function (v) { return v.toFixed(1); };
  new Chart(cv, {
    type: "scatter",
    data: {
      datasets: c.series.map(function (s) {
        return {
          data: s.pts.map(function (p) { return { x: p[0], y: p[1] }; }),
          borderColor: s.color,
          borderWidth: 3.6,
          pointRadius: 0,
          showLine: true,
          clip: false
        };
      })
    },
    options: opts
  });
}

// trace units are the reading units of the figure; ox,oy and fx,fy place them on the page
function traceChart(ox, oy, fx, fy, series) {
  var minX = 1e9, maxX = -1e9, minY = 1e9, maxY = -1e9;
  series.forEach(function (s) {
    s.pts.forEach(function (p) {
      minX = Math.min(minX, p[0]); maxX = Math.max(maxX, p[0]);
      minY = Math.min(minY, p[1]); maxY = Math.max(maxY, p[1]);
    });
  });
  minX -= 8; maxX += 8; minY -= 10; maxY += 10;
  var cv = addCanvas(ox + minX / fx, oy + minY / fy, (maxX - minX) / fx, (maxY - minY) / fy);
  new Chart(cv, {
    type: "scatter",
    data: {
      datasets: series.map(function (s) {
        return {
          data: s.pts.map(function (p) { return { x: p[0], y: p[1] }; }),
          borderColor: s.color,
          borderWidth: s.width || 2.8,
          pointRadius: 0,
          showLine: true,
          cubicInterpolationMode: s.sharp ? "default" : "monotone"
        };
      })
    },
    options: {
      responsive: false, animation: false, events: [],
      plugins: { legend: { display: false }, tooltip: { enabled: false } },
      scales: {
        x: { display: false, min: minX, max: maxX, bounds: "data" },
        y: { display: false, min: minY, max: maxY, reverse: true, bounds: "data" }
      }
    }
  });
}

// one black image tile; fibers use the tile's own range, puncta the range of the red tile below it
function micrograph(l, t, w, h, xr, yr, pr, p) {
  var cv = addCanvas(l, t, w, h, "#000");
  cv.style.boxShadow = "0 0 0 1px #b0b0b0";
  var sets = [];
  function lines(list, color, width) {
    (list || []).forEach(function (path) {
      sets.push({
        data: path.map(function (q) { return { x: q[0], y: q[1] }; }),
        borderColor: color, borderWidth: width, pointRadius: 0, showLine: true, tension: 0.4, yAxisID: "y", order: 3
      });
    });
  }
  lines(p.faint, "#0b6b0b", 1.2);
  lines(p.fibers, "#22e022", 1.9);
  lines(p.thick, "#26e026", p.thickW || 8);
  (p.beads || []).forEach(function (path) {
    sets.push({
      data: path.map(function (q) { return { x: q[0], y: q[1] }; }),
      borderColor: p.dot, borderWidth: p.beadW || 1.8, borderDash: p.dash || MEDIUM, pointRadius: 0, showLine: true, tension: 0.4, yAxisID: "y2", order: 2
    });
  });
  sets.push({
    data: p.puncta.map(function (q) { return { x: q[0], y: q[1] }; }),
    backgroundColor: p.dot, borderWidth: 0, pointRadius: p.radius, pointStyle: "rect", showLine: false, yAxisID: "y2", order: 1
  });
  new Chart(cv, {
    type: "scatter",
    data: { datasets: sets },
    options: {
      responsive: false, animation: false, events: [],
      plugins: { legend: { display: false }, tooltip: { enabled: false } },
      scales: {
        x: { display: false, min: xr[0], max: xr[1], bounds: "data" },
        y: { display: false, min: yr[0], max: yr[1], reverse: true, bounds: "data" },
        y2: { display: false, min: pr[0], max: pr[1], reverse: true, bounds: "data" }
      }
    }
  });
}

var blOr = [BLUE, ORANGE], blGrOr = [BLUE, GREEN, ORANGE];
var FX = 2.178, FX2 = 2.202, FY = 3;
var V = { rot: -90 };

// ---- a
letter("a", 17, 14);
label("ESPC amplitude (pA)", 65, 137, 207, 19, V);
barChart({ x0: 131, x1: 236, top: 34, bottom: 247.7, cat0: 157, catN: 197.5, ymax: 600, step: 200, vals: aVals, errs: aErr, colors: blOr, barW: 27, cats: twoCats, rotate: 45, n: aN, ny: aNy, brackets: [[0, 1, 564, 548, 548]] });
label("<i>p</i>=0.009", 178, 35, 76, 19);
traceChart(0, 0, FX, FY, [{ pts: trA1, color: BLUE }]);
traceChart(0, 0, FX, FY, [{ pts: trA2, color: ORANGE }]);
label("Ctrl", 315, 45, 35, 18);
label("R178Q", 330, 146, 65, 18);
scaleBar(308.5, 207, 229, 345);
label("100 pA", 343, 215, 63, 18);
label("10 ms", 339, 241, 56, 18);

// ---- b
letter("b", 441, 15);
label("Amplitude of", 440, 140, 127, 19, V);
label("first response (pA)", 464, 141, 185, 19, V);
barChart({ x0: 529.4, x1: 629, top: 33.3, bottom: 247, cat0: 555.5, catN: 595.5, ymax: 600, step: 200, vals: bVals, errs: bErr, colors: blOr, barW: 27, cats: twoCats, rotate: 45, n: bN, ny: bNy, brackets: [[0, 1, 565, 547, 547]] });
label("<i>p</i>=0.004", 586, 29, 76, 19);
traceChart(0, 0, FX, FY, [{ pts: trB1, color: BLUE, sharp: true, width: 2.4 }]);
traceChart(0, 0, FX, FY, [{ pts: trB2, color: ORANGE, sharp: true, width: 2.4 }]);
rightSide(true);
label("Ctrl", 736, 47, 35, 18);
label("R178Q", 751, 148, 66, 18);
scaleBar(782, 209, 235, 831);
label("100 pA", 821, 216, 64, 18);
label("50 ms", 816, 251, 57, 18);

cumChart({ x0: 984, x1: 1319, top: 24, bottom: 254, xmax: 125, series: [{ pts: bCumCtrl, color: BLUE }, { pts: bCumMut, color: ORANGE }] });
label("Cumulative probability", 920, 139.5, 226, 20, V);
label("Inter-event interval (ms)", 1154, 297, 239, 20);
barChart({ x0: 1230.6, x1: 1299, top: 91.7, bottom: 228.7, cat0: 1250.7, catN: 1279.6, ymax: 40, step: 10, size: 15, lw: 1.6, tick: 4, vals: bInsetVals, errs: bInsetErr, colors: blOr, barW: 14.5, barBorder: 1.5, capW: 3, errWidth: 1.5, cats: twoCats, hideCats: true, tickVals: [0.5], brackets: [[-0.02, 1, 33.7, 33.7, 33.7]], ml: 30, mt: 6, mb: 14 });
label("Ctrl", 1247, 240, 24, 13);
label("R178Q", 1291.6, 240, 47, 13);
label("****", 1263, 103, 0, 11);
label("Inter-event", 1170, 157, 90, 16, V);
label("interval (ms)", 1193, 158, 105, 16, V);
swatch(1354.5, 121, 14, 14, BLUE);
label("Ctrl", 1391, 127, 34, 18);
swatch(1354.5, 153, 14, 14, ORANGE);
label("R178Q", 1406, 160, 64, 18);
rightSide(false);

// ---- c
letter("c", 9, 327);
timeChart({ x0: 110, x1: 520, top: 444, bottom: 631, ymin: 50, ymax: 160, step: 20, yList: [60, 80, 100, 120, 140, 160], series: [
  { times: cTimes, vals: cBlue, errs: cBlueErr, color: BLUE, style: "circle" },
  { times: cTimes, vals: cOrange, errs: cOrangeErr, color: ORANGE, style: "rect" }
] });
label("EPSC amp (% baseline)", 40, 546, 233, 19, V);
label("Time (min)", 318, 680, 103, 18);
swatch(170, 444, 13, 13, BLUE);
label("GFP (11)", 230, 451, 83, 18);
swatch(294, 444, 13, 13, ORANGE);
label("R178Q-GFP (7)", 385, 451, 146, 18);
label("1", 141, 564, 0, 18);
label("2", 474, 583, 0, 18);
arrow(174.5, 588, 13, 10, 613);
label("Paired stimuli", 258.5, 607, 136, 18);
traceChart(0, 320, FX, FY, [{ pts: trC1, color: BLUE }, { pts: trC1g, color: GRAY }]);
traceChart(0, 320, FX, FY, [{ pts: trC2, color: ORANGE }, { pts: trC2g, color: GRAY }]);
label("Ctrl", 89.5, 362, 35, 18);
label("1", 155, 382, 0, 18);
label("2", 182, 403, 0, 18);
label("R178Q", 324, 362, 65, 18);
label("1", 383, 355, 0, 18);
label("2", 415, 380, 0, 18);
scaleBar(451, 369, 396, 493.6);
label("200 pA", 480, 380, 48, 14);
label("5 ms", 472, 408, 33, 14);
barChart({ x0: 614, x1: 720, top: 348, bottom: 630, cat0: 640.5, catN: 680.7, ymax: 150, step: 50, vals: cBarVals, errs: cBarErr, colors: blOr, barW: 27, cats: twoCats, rotate: 45, n: cBarN, ny: cBarNy, brackets: [[0, 1, 142, 138.5, 138.5]] });
label("<i>p</i>=0.014", 662.5, 348, 77, 19);
label("EPSC amp (% baseline)", 549, 489, 232, 19, V);

// ---- d
rightSide(true);
letter("d", 747, 325);
timeChart({ x0: 824.7, x1: 1239, top: 443, bottom: 631, ymin: 0, ymax: 150, step: 50, series: [
  { times: dTimes, vals: dBlue, errs: dBlueErr, color: BLUE, style: "circle" },
  { times: dTimes, vals: dOrange, errs: dOrangeErr, color: ORANGE, style: "rect" }
] });
label("EPSC amp (% baseline)", 759, 546, 233, 19, V);
label("Time (min)", 1034, 680, 105, 18);
swatch(885, 444, 13, 13, BLUE);
label("Ctrl (10)", 942, 451, 79, 18);
swatch(1010.6, 444, 13, 13, ORANGE);
label("R178Q (5)", 1078, 451, 98, 18);
label("1", 855.4, 523, 0, 18);
label("2", 1213.6, 563, 0, 18);
rect(876, 586, 18.5, 2);
label("LFS (5 Hz, 3 min)", 986, 587, 169, 18);
traceChart(720, 320, FX2, FY, [{ pts: trD1, color: BLUE }, { pts: trD1g, color: GRAY }]);
traceChart(720, 320, FX2, FY, [{ pts: trD2, color: ORANGE }, { pts: trD2g, color: GRAY }]);
label("Ctrl", 802.6, 362, 35, 18);
label("2", 887, 381, 0, 18);
label("1", 881.6, 415, 0, 18);
label("R178Q", 1023, 367, 66, 18);
label("2", 1063.4, 401, 0, 18);
label("1", 1083.6, 392, 0, 18);
scaleBar(1132, 375, 403, 1183.7);
label("200 pA", 1161, 388, 48, 14);
label("5 ms", 1154, 417, 33, 14);
barChart({ x0: 1333, x1: 1440, top: 348, bottom: 630, cat0: 1359, catN: 1399.6, ymax: 150, step: 50, vals: dBarVals, errs: dBarErr, colors: blOr, barW: 27, cats: twoCats, rotate: 45, n: dBarN, ny: dBarNy, brackets: [[0, 1, 142, 138.5, 138.5]] });
label("<i>p</i>=0.003", 1381, 347, 77, 19);
label("EPSC amp (% baseline)", 1266, 489, 232, 19, V);
rightSide(false);

// ---- e
letter("e", 11, 718);
label("<i>stb</i> cKO E18 cortical neurons (DIV15)", 513, 715, 369, 18, { stroke: 0.3, weight: "normal" });
label("Ctrl", 214, 737, 36, 18, { stroke: 0.3, weight: "normal" });
label("WT", 508, 737, 32, 18, { stroke: 0.3, weight: "normal" });
label("R178Q", 809.5, 737, 65, 18, { stroke: 0.3, weight: "normal" });
label("Synaptophysin", 20, 830, 147, 18, { rot: -90, color: "#ee1111" });
label("βIII-tubulin", 48, 830.5, 104, 18, { rot: -90, color: "#0c8a0c" });
label("PSD95", 20, 998, 65, 18, { rot: -90, color: "#ee1111" });
label("βIII-tubulin", 48, 998, 105, 18, { rot: -90, color: "#0c8a0c" });

var tileX = [65.5, 366, 667.5];
var xr1 = [107, 590], xr2 = [598, 1081], xr3 = [1090, 1573];
var yrTop = [155, 373], yrTopRed = [391, 609], yrLow = [675, 892], yrLowRed = [907, 1126];
var MERGE = "#ffa000", RED = "#ff1414", MERGE2 = "#ffdc00";
micrograph(tileX[0], 752, 296, 72, xr1, yrTop, yrTopRed, { fibers: e1Fibers, puncta: e1Puncta, beads: e1Beads, dash: SPARSE, beadW: 1.4, dot: MERGE, radius: 1.2 });
micrograph(tileX[1], 752, 296, 72, xr2, yrTop, yrTopRed, { fibers: e2Fibers, faint: e2Faint, puncta: e2Puncta, beads: e2Beads, dash: MEDIUM, dot: MERGE, radius: 1.3 });
micrograph(tileX[2], 752, 296, 72, xr3, yrTop, yrTopRed, { fibers: e3Fibers, puncta: e3Puncta, beads: e3Beads, dash: SPARSE, beadW: 1.4, dot: MERGE, radius: 1.2 });
micrograph(tileX[0], 830, 296, 73, xr1, yrTopRed, yrTopRed, { puncta: e1Puncta, beads: e1Beads, dash: SPARSE, beadW: 1.5, dot: RED, radius: 1.1 });
micrograph(tileX[1], 830, 296, 73, xr2, yrTopRed, yrTopRed, { puncta: e2Puncta, beads: e2Beads, dash: DENSE, beadW: 2.2, dot: RED, radius: 1.7 });
micrograph(tileX[2], 830, 296, 73, xr3, yrTopRed, yrTopRed, { puncta: e3Puncta, beads: e3Beads, dash: SPARSE, beadW: 1.4, dot: RED, radius: 1.1 });
micrograph(tileX[0], 925, 296, 72, xr1, yrLow, yrLowRed, { thick: e4Thick, thickW: 7, fibers: e4Fibers, faint: e4Faint, puncta: e4Puncta, beads: e4Beads, dash: MEDIUM, dot: MERGE2, radius: 1.2 });
micrograph(tileX[1], 925, 296, 72, xr2, yrLow, yrLowRed, { thick: e5Thick, fibers: e5Fibers, faint: e5Faint, puncta: e5Puncta, beads: e5Beads, dash: DENSE, beadW: 2.4, dot: MERGE2, radius: 1.3 });
micrograph(tileX[2], 925, 296, 72, xr3, yrLow, yrLowRed, { thick: e6Thick, fibers: e6Fibers, faint: e6Faint, puncta: e6Puncta, beads: e6Beads, dash: DENSE, beadW: 2.4, dot: MERGE2, radius: 1.3 });
micrograph(tileX[0], 1002, 296, 73, xr1, yrLowRed, yrLowRed, { puncta: e4Puncta, beads: e4Beads, dash: MEDIUM, dot: RED, radius: 1.2 });
micrograph(tileX[1], 1002, 296, 73, xr2, yrLowRed, yrLowRed, { puncta: e5Puncta, beads: e5Beads, dash: DENSE, beadW: 2.4, dot: RED, radius: 1.7 });
micrograph(tileX[2], 1002, 296, 73, xr3, yrLowRed, yrLowRed, { puncta: e6Puncta, beads: e6Beads, dash: DENSE, beadW: 2.2, dot: RED, radius: 1.5 });
rect(914, 896, 40, 3, "#fff");
rect(913, 1067, 40, 3, "#fff");

// ---- f
letter("f", 973, 715);
label("<i>stb</i> cKO E18 cortical neurons (DIV15)", 1206.7, 736, 368, 18, { stroke: 0.3, weight: "normal" });
barChart({ x0: 1060, x1: 1204, top: 771.7, bottom: 1051, cat0: 1088.7, catN: 1175.7, ymax: 80, step: 20, size: 19, vals: f1Vals, errs: f1Err, colors: blGrOr, barW: 27, cats: threeCats, hideCats: true, n: f1N, ny: f1Ny, brackets: [[0, 2, 80, 78, 78], [0, 1, 71.9, 69.8, 69.8]], ml: 40, mb: 10, mt: 20 });
label("Ctrl", 1087.7, 1070, 27, 16, { weight: "normal", stroke: 0.3 });
label("WT", 1126.7, 1070, 25, 16, { weight: "normal", stroke: 0.3 });
label("R178Q", 1174, 1070, 51, 16, { weight: "normal", stroke: 0.3 });
label("ns", 1130.3, 762.7, 0, 17, { weight: "normal", stroke: 0.3 });
label("<i>p</i>&lt;0.001", 1121, 787.7, 64, 17, { weight: "normal", stroke: 0.3 });
label("# synaptophysin puncta", 985, 912.5, 238, 20, { rot: -90, weight: "normal", stroke: 0.3 });
label("per 100 µm axon", 1011.7, 911.7, 163, 20, { rot: -90, weight: "normal", stroke: 0.3 });
barChart({ x0: 1287.3, x1: 1431.7, top: 771.7, bottom: 1051, cat0: 1315.3, catN: 1402.7, ymax: 80, step: 20, size: 19, vals: f2Vals, errs: f2Err, colors: blGrOr, barW: 27, cats: threeCats, hideCats: true, n: f2N, ny: f2Ny, brackets: [[0, 2, 80, 78, 78], [0, 1, 71.9, 69.8, 69.8]], ml: 40, mb: 10, mt: 20 });
label("Ctrl", 1315, 1070, 27, 16, { weight: "normal", stroke: 0.3 });
label("WT", 1353, 1070, 25, 16, { weight: "normal", stroke: 0.3 });
label("R178Q", 1401.7, 1070, 51, 16, { weight: "normal", stroke: 0.3 });
label("ns", 1358.7, 762.7, 0, 17, { weight: "normal", stroke: 0.3 });
label("<i>p</i>&lt;0.001", 1349, 787.7, 64, 17, { weight: "normal", stroke: 0.3 });
label("# PSD95 puncta", 1211.7, 925, 157, 20, { rot: -90, weight: "normal", stroke: 0.3 });
label("per 100 µm dendrite", 1239.3, 916.7, 190, 20, { rot: -90, weight: "normal", stroke: 0.3 });

// ---- g
letter("g", 10, 1116);
label("<i>stb</i> cKO hippocampal neurons", 249, 1127, 274, 18);
barChart({ x0: 86, x1: 254, top: 1186.7, bottom: 1446, cat0: 119.9, catN: 221.3, ymax: 500, step: 100, size: 18, vals: gVals, errs: gErr, colors: blGrOr, barW: 27, cats: threeCats, hideCats: true, n: gN, ny: gNy, brackets: [[0, 0.89, 499, 304, 481], [1.09, 2, 531, 482, 310]], brW: 2.4, mb: 10 });
label("<i>p</i>=0.026", 137.7, 1172.3, 60, 16);
label("<i>p</i>=0.046", 206, 1156, 60, 16);
label("Ctrl", 119.4, 1465, 32, 17);
label("WT", 170, 1465, 29, 17);
label("R178Q", 220.4, 1465, 59, 17);
label("EPSC Amplitude (pA)", 20.7, 1316.7, 210, 19, V);
traceChart(0, 1090, FX, FY, [{ pts: trG1, color: BLUE }]);
traceChart(0, 1090, FX, FY, [{ pts: trG2, color: GREEN }]);
traceChart(0, 1090, FX, FY, [{ pts: trG3, color: ORANGE }]);
label("Ctrl", 321, 1170, 27, 15);
label("WT", 321, 1256, 27, 15);
label("R178Q", 334, 1363, 52, 15);
scaleBar(339, 1403, 1425, 377);
label("100 pA", 365, 1410, 47, 14);
label("10 ms", 360, 1438, 41, 14);

// ---- h
letter("h", 481, 1111);
label("<i>stb</i> cKO hippocampal neurons", 711, 1127, 276, 18);
barChart({ x0: 549.6, x1: 718, top: 1182.7, bottom: 1445, cat0: 582, catN: 683.4, ymax: 600, step: 200, size: 18, vals: hVals, errs: hErr, colors: blGrOr, barW: 27, cats: threeCats, hideCats: true, n: hN, ny: hNy, brackets: [[0, 1, 522, 290, 496], [1.124, 2.03, 563.5, 501, 294]], brW: 2.4, mb: 10 });
label("<i>p</i>=0.009", 605, 1205, 60, 16);
label("<i>p</i>=0.016", 664, 1185, 60, 16);
label("Ctrl", 582, 1465, 32, 17);
label("WT", 632, 1465, 29, 17);
label("R178Q", 684, 1465, 59, 17);
label("Amplitude of first response (pA)", 485, 1314, 293, 18, V);
traceChart(720, 1090, FX2, FY, [{ pts: trH1, color: BLUE, sharp: true, width: 2.4 }]);
traceChart(720, 1090, FX2, FY, [{ pts: trH2, color: GREEN, sharp: true, width: 2.4 }]);
traceChart(720, 1090, FX2, FY, [{ pts: trH3, color: ORANGE, sharp: true, width: 2.4 }]);
rightSide(true);
label("Ctrl", 792, 1169, 27, 15);
label("WT", 791, 1255, 27, 15);
label("R178Q", 805, 1363, 52, 15);
scaleBar(831.6, 1403, 1428, 874);
label("100 pA", 859, 1414, 49, 14);
label("50 ms", 856, 1440, 42, 14);

// ---- i
letter("i", 977, 1110);
swatch(1088.7, 1117.7, 13, 13, BLUE);
label("Ctrl", 1128.6, 1123, 35, 18);
swatch(1189, 1117.7, 13, 13, GREEN);
label("WT", 1227, 1123, 32, 18);
swatch(1289, 1117.7, 13, 13, ORANGE);
label("R178Q", 1348, 1123, 66, 18);
label("<i>stb</i> cKO hippocampal neurons", 1240, 1151, 278, 18);
cumChart({ x0: 1056, x1: 1440, top: 1153, bottom: 1416, xmax: 125.3, series: [{ pts: iCumCtrl, color: BLUE }, { pts: iCumMut, color: ORANGE }, { pts: iCumWT, color: GREEN }] });
label("Cumulative probability", 995.5, 1284.5, 226, 20, V);
label("Inter-event interval (ms)", 1250, 1460, 239, 20);
barChart({ x0: 1289, x1: 1386.7, top: 1242.7, bottom: 1379.3, cat0: 1308.4, catN: 1367, ymax: 30, step: 10, size: 15, lw: 1.6, tick: 4, vals: iInsetVals, errs: iInsetErr, colors: blGrOr, barW: 14.5, barBorder: 1.5, capW: 3, errWidth: 1.5, cats: threeCats, hideCats: true, tickVals: [0.5, 1.5], brackets: [[-0.01, 0.99, 22.75, 22.75, 22.75], [1.08, 2, 24.4, 24.4, 24.4]], ml: 30, mt: 6, mb: 14 });
label("Ctrl", 1305.4, 1391, 25, 13);
label("WT", 1338.5, 1391, 22, 13);
label("R178Q", 1379, 1391, 47, 13);
label("****", 1321.5, 1270, 0, 11);
label("****", 1352.7, 1262, 0, 11);
label("Inter-event", 1228, 1307, 91, 16, V);
label("interval (ms)", 1250, 1309.7, 106, 16, V);
rightSide(false);

// ---- j
letter("j", 8, 1518);
timeChart({ x0: 81, x1: 405.4, top: 1620, bottom: 1866.7, ymin: 60, ymax: 160, step: 20, series: [
  { times: jTimes, vals: jBlue, errs: jBlueErr, color: BLUE, style: "circle" },
  { times: jTimes, vals: jGreen, errs: jGreenErr, color: GREEN, style: "rect" },
  { times: jTimes, vals: jOrange, errs: jOrangeErr, color: ORANGE, style: "triangle" }
] });
label("EPSC amp (% baseline)", 20.7, 1749.7, 233, 19, V);
label("Time (min)", 254, 1909, 105, 18);
swatch(101, 1626.7, 12, 13, BLUE);
label("Ctrl (8)", 151.5, 1633, 67, 18);
swatch(200.6, 1626.7, 12, 13, GREEN);
label("WT (6)", 252.5, 1633, 62, 18);
swatch(292.5, 1626.7, 12, 13, ORANGE);
label("R178Q (9)", 360.4, 1633, 96, 18);
label("1", 105, 1791.7, 0, 18, { weight: "normal" });
label("2", 372, 1832, 0, 18, { weight: "normal" });
arrow(135.4, 1808, 15, 13, 1840);
label("Paired stimuli", 212, 1837.7, 135, 18);
traceChart(0, 1470, FX, FY, [{ pts: trJ1, color: BLUE }, { pts: trJ1g, color: GRAY }]);
traceChart(0, 1470, FX, FY, [{ pts: trJ2, color: GREEN }, { pts: trJ2g, color: GRAY }]);
traceChart(0, 1470, FX, FY, [{ pts: trJ3, color: ORANGE }, { pts: trJ3g, color: GRAY }]);
label("Ctrl", 87, 1527, 25, 14);
label("WT", 225, 1527, 23, 14);
label("R178Q", 388, 1527, 47, 14);
label("1", 109, 1580, 0, 14);
label("2", 122, 1597, 0, 14);
label("1", 238, 1561, 0, 14);
label("2", 247, 1601, 0, 14);
label("2", 388, 1560, 0, 14);
label("1", 372, 1572, 0, 14);
scaleBar(479, 1544, 1572.3, 505);
label("200 pA", 505, 1558, 48, 14);
label("5 ms", 500.5, 1584, 33, 14);
barChart({ x0: 524.8, x1: 668, top: 1635.7, bottom: 1880.7, cat0: 553.5, catN: 640, ymax: 150, step: 50, vals: jBarVals, errs: jBarErr, colors: blGrOr, barW: 27, cats: threeCats, hideCats: true, n: jBarN, ny: jBarNy, brackets: [[-0.01, 1.0, 144.7, 103.5, 138], [1.13, 2.03, 153.5, 138, 110]], mb: 10 });
label("<i>p</i>=0.026", 568.4, 1633.3, 56, 15);
label("<i>p</i>=0.023", 624.4, 1617.3, 56, 15);
label("Ctrl", 553, 1900, 28, 16, { weight: "normal", stroke: 0.3 });
label("WT", 591, 1900, 25, 16, { weight: "normal", stroke: 0.3 });
label("R178Q", 639, 1900, 52, 16, { weight: "normal", stroke: 0.3 });
label("EPSC amp (% baseline)", 468, 1758, 232, 19, V);

// ---- k
rightSide(true);
letter("k", 762, 1517);
timeChart({ x0: 834.8, x1: 1172, top: 1618, bottom: 1866.7, ymin: 0, ymax: 150, step: 50, series: [
  { times: kTimes, vals: kBlue, errs: kBlueErr, color: BLUE, style: "circle" },
  { times: kTimes, vals: kGreen, errs: kGreenErr, color: GREEN, style: "rect" },
  { times: kTimes, vals: kOrange, errs: kOrangeErr, color: ORANGE, style: "triangle" }
] });
label("EPSC amp (% baseline)", 772.8, 1749, 232, 19, V);
label("Time (min)", 1015, 1909, 108, 18);
swatch(855.4, 1627.7, 12.5, 13, BLUE);
label("Ctrl (8)", 907, 1634, 67, 18);
swatch(955.5, 1627.7, 12.5, 13, GREEN);
label("WT (5)", 1008, 1634, 64, 18);
swatch(1056, 1627.7, 12.5, 13, ORANGE);
label("R178Q (5)", 1122.7, 1634, 98, 18);
label("1", 859, 1720, 0, 18);
label("2", 1155.7, 1777, 0, 18);
rect(877, 1838, 16, 2.4);
label("LFS (5Hz, 3min)", 978.5, 1840, 158, 18);
traceChart(720, 1470, FX2, FY, [{ pts: trK1, color: BLUE }, { pts: trK1g, color: GRAY }]);
traceChart(720, 1470, FX2, FY, [{ pts: trK2, color: GREEN }, { pts: trK2g, color: GRAY }]);
traceChart(720, 1470, FX2, FY, [{ pts: trK3, color: ORANGE }, { pts: trK3g, color: GRAY }]);
label("Ctrl", 835, 1524, 25, 14);
label("WT", 975, 1524, 23, 14);
label("R178Q", 1122.7, 1524, 47, 14);
label("2", 843, 1579, 0, 14);
label("1", 862, 1563, 0, 14);
label("2", 1003, 1562, 0, 14);
label("1", 983, 1584, 0, 14);
label("2", 1116, 1594, 0, 14);
label("1", 1137, 1586, 0, 14);
scaleBar(1200.7, 1545.7, 1574, 1227);
label("200 pA", 1227, 1559, 49, 14);
label("5 ms", 1222.7, 1585.7, 34, 14);
barChart({ x0: 1292.5, x1: 1440, top: 1633.3, bottom: 1879.3, cat0: 1321, catN: 1409.6, ymax: 150, step: 50, vals: kBarVals, errs: kBarErr, colors: blGrOr, barW: 27, cats: threeCats, hideCats: true, n: kBarN, ny: kBarNy, brackets: [[-0.04, 0.88, 119.9, 110.8, 80.9], [1.13, 2.06, 116, 83, 100.8]], brW: 1.5, mb: 10 });
label("<i>p</i>=0.005", 1331.6, 1669.3, 57, 15);
label("<i>p</i>=0.011", 1397, 1674.3, 57, 15);
label("Ctrl", 1321.5, 1898, 28, 16, { weight: "normal", stroke: 0.3 });
label("WT", 1359.6, 1898, 25, 16, { weight: "normal", stroke: 0.3 });
label("R178Q", 1408.7, 1898, 53, 16, { weight: "normal", stroke: 0.3 });
label("EPSC amp (% baseline)", 1235, 1756.5, 232, 19, V);
rightSide(false);
</script>
</body>
</html>
